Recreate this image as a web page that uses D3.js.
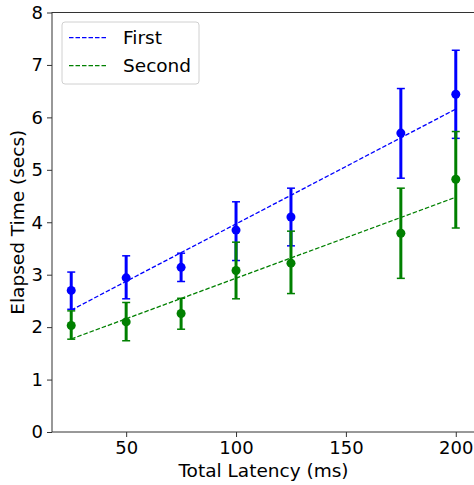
<!DOCTYPE html>
<html>
<head>
<meta charset="utf-8">
<script src="https://cdn.jsdelivr.net/npm/d3@7"></script>
<style>
  body { margin: 0; background: #fff; }
  svg { display: block; font-family: "DejaVu Sans", sans-serif; }
</style>
</head>
<body>
<div id="chart"></div>
<script>
const latency = [25, 50, 75, 100, 125, 175, 200];

const firstMean = [2.70, 2.94, 3.14, 3.85, 4.10, 5.70, 6.44];
const firstLow  = [2.34, 2.54, 2.87, 3.27, 3.55, 4.84, 5.60];
const firstHigh = [3.05, 3.36, 3.41, 4.39, 4.65, 6.55, 7.28];

const secondMean = [2.03, 2.10, 2.26, 3.08, 3.22, 3.79, 4.82];
const secondLow  = [1.77, 1.74, 1.96, 2.54, 2.64, 2.93, 3.89];
const secondHigh = [2.31, 2.47, 2.55, 3.62, 3.83, 4.65, 5.73];

const xTicks = [50, 100, 150, 200];
const yTicks = [0, 1, 2, 3, 4, 5, 6, 7, 8];

const width = 474, height = 485;
const margin = {top: 12.5, right: -1, bottom: 53, left: 52};
const fs = 18.5;

const series = [
  {name: 'First', color: '#0000ff', mean: firstMean, low: firstLow, high: firstHigh},
  {name: 'Second', color: '#008000', mean: secondMean, low: secondLow, high: secondHigh}
];

// least squares fit of the means
function fit(xs, ys){
  const mx = d3.mean(xs), my = d3.mean(ys);
  let sxy = 0, sxx = 0;
  xs.forEach((x, i) => { sxy += (x - mx) * (ys[i] - my); sxx += (x - mx) * (x - mx); });
  const b = sxy / sxx, a = my - b * mx;
  return x => a + b * x;
}

const svg = d3.select('#chart').append('svg')
  .attr('width', width)
  .attr('height', height);

const x = d3.scaleLinear().domain([16.25, 208.75]).range([margin.left, width - margin.right]);
const y = d3.scaleLinear().domain([0, 8]).range([height - margin.bottom, margin.top]);

const g = svg.append('g');

// fit lines
series.forEach(s => {
  const f = fit(latency, s.mean);
  const ends = d3.extent(latency);
  g.append('line')
    .attr('x1', x(ends[0])).attr('y1', y(f(ends[0])))
    .attr('x2', x(ends[1])).attr('y2', y(f(ends[1])))
    .attr('stroke', s.color)
    .attr('stroke-width', 1.3)
    .attr('stroke-dasharray', '4.5,2');
});

// error bars
series.forEach(s => {
  const eg = g.append('g');
  latency.forEach((lx, i) => {
    eg.append('line')
      .attr('x1', x(lx)).attr('x2', x(lx))
      .attr('y1', y(s.low[i])).attr('y2', y(s.high[i]))
      .attr('stroke', s.color).attr('stroke-width', 3);
    [s.low[i], s.high[i]].forEach(v => {
      eg.append('line')
        .attr('x1', x(lx) - 4).attr('x2', x(lx) + 4)
        .attr('y1', y(v)).attr('y2', y(v))
        .attr('stroke', s.color).attr('stroke-width', 1.5);
    });
    eg.append('circle')
      .attr('cx', x(lx)).attr('cy', y(s.mean[i]))
      .attr('r', 4.5)
      .attr('fill', s.color);
  });
});

// axes
const xAxis = svg.append('g')
  .attr('transform', `translate(0,${height - margin.bottom})`)
  .call(d3.axisBottom(x).tickValues(xTicks).tickSize(5).tickPadding(4).tickSizeOuter(0));
const yAxis = svg.append('g')
  .attr('transform', `translate(${margin.left},0)`)
  .call(d3.axisLeft(y).tickValues(yTicks).tickSize(5).tickPadding(4).tickSizeOuter(0));

[xAxis, yAxis].forEach(a => {
  a.selectAll('text').attr('font-size', 18).attr('fill', '#000').attr('font-family', 'DejaVu Sans');
  a.selectAll('line').attr('stroke', '#333').attr('stroke-width', 1);
  a.select('.domain').remove();
});

// frame
svg.append('rect')
  .attr('x', margin.left).attr('y', margin.top)
  .attr('width', x.range()[1] - margin.left)
  .attr('height', y(0) - margin.top)
  .attr('fill', 'none').attr('stroke', '#333').attr('stroke-width', 1);

// axis titles
svg.append('text')
  .attr('x', (margin.left + x.range()[1]) / 2)
  .attr('y', 477)
  .attr('text-anchor', 'middle')
  .attr('font-size', fs)
  .text('Total Latency (ms)');

svg.append('text')
  .attr('transform', `translate(24,${(y(0) + margin.top) / 2}) rotate(-90)`)
  .attr('text-anchor', 'middle')
  .attr('font-size', fs)
  .text('Elapsed Time (secs)');

// legend
const legend = svg.append('g').attr('transform', 'translate(62,22)');
legend.append('rect')
  .attr('width', 137).attr('height', 62)
  .attr('rx', 3)
  .attr('fill', '#fff').attr('fill-opacity', 0.8)
  .attr('stroke', '#d0d0d0').attr('stroke-width', 1);
series.forEach((s, i) => {
  const ly = 15.7 + i * 28;
  legend.append('line')
    .attr('x1', 7).attr('x2', 46)
    .attr('y1', ly).attr('y2', ly)
    .attr('stroke', s.color).attr('stroke-width', 1.3)
    .attr('stroke-dasharray', '4.5,2');
  legend.append('text')
    .attr('x', 61).attr('y', ly + 6.5)
    .attr('font-size', fs)
    .text(s.name);
});
</script>
</body>
</html>
